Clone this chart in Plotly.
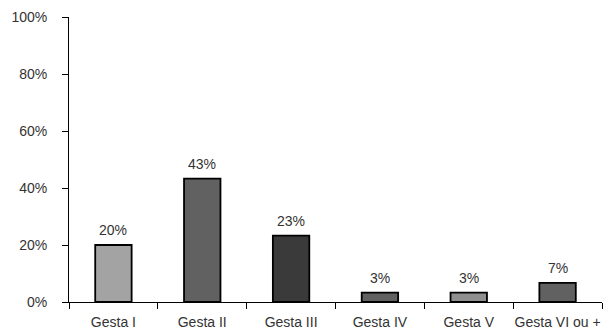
import plotly.graph_objects as go

categories = ["Gesta I", "Gesta II", "Gesta III", "Gesta IV", "Gesta V", "Gesta VI ou +"]
values = [20.0, 43.3, 23.3, 3.3, 3.3, 6.7]
bar_colors = ["#a3a3a3", "#616161", "#3a3a3a", "#616161", "#8f8f8f", "#616161"]
y_ticks = [0, 20, 40, 60, 80, 100]
y_tick_labels = ["0%", "20%", "40%", "60%", "80%", "100%"]

FONT = "Liberation Sans, Arial, sans-serif"

fig = go.Figure()
fig.add_trace(go.Bar(
    x=categories, y=values,
    marker=dict(color=bar_colors, line=dict(color="black", width=1.8)),
    width=0.41,
    hoverinfo="skip",
))

for c, v in zip(categories, values):
    fig.add_annotation(x=c, y=v, text=f"{v:.0f}%", showarrow=False,
                       yanchor="bottom", yshift=5,
                       font=dict(family=FONT, size=14, color="#333"))

fig.update_layout(
    width=608, height=331,
    margin=dict(l=69, r=6, t=17, b=29),
    paper_bgcolor="white", plot_bgcolor="white",
    showlegend=False,
    font=dict(family=FONT, size=14, color="#333"),
    xaxis=dict(
        type="category", range=[-0.5, 5.5], automargin=False, tickangle=0,
        showline=True, linecolor="black", linewidth=1,
        ticks="outside", tickson="boundaries", ticklen=6, tickcolor="black",
        showgrid=False, zeroline=False, ticklabelstandoff=7,
    ),
    yaxis=dict(
        range=[0, 100], tickvals=y_ticks, ticktext=y_tick_labels, automargin=False,
        showline=True, linecolor="black", linewidth=1,
        ticks="outside", ticklen=6, tickcolor="black",
        showgrid=False, zeroline=False, ticklabelstandoff=12,
    ),
)

fig.write_html("out.html")
